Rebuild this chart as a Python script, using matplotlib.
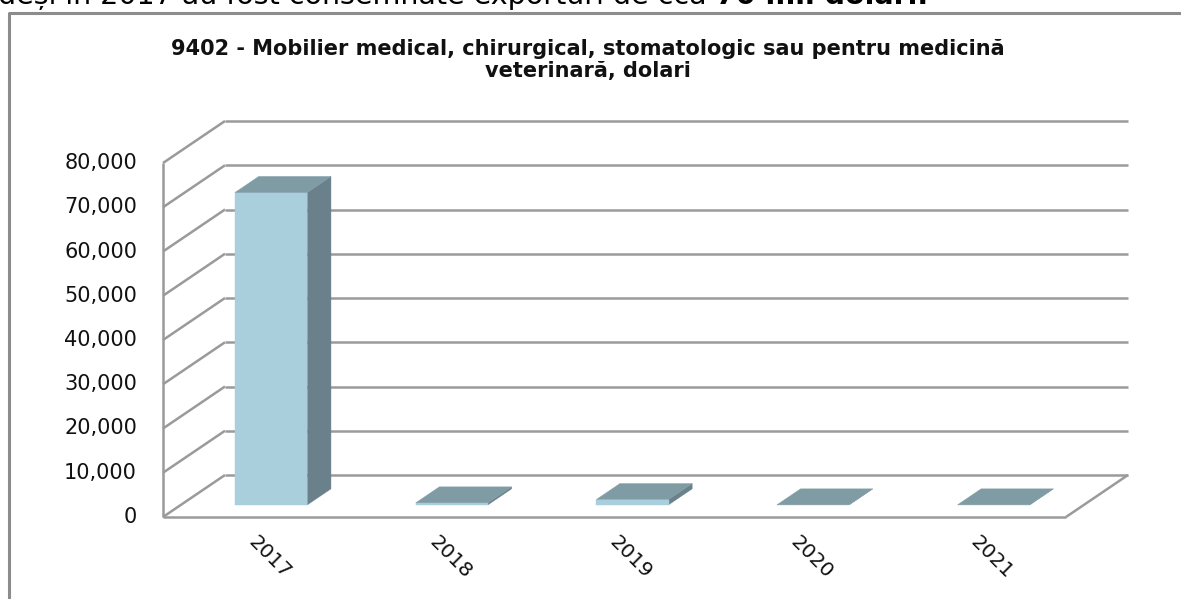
import matplotlib
matplotlib.use('Agg')
import matplotlib.pyplot as plt
from matplotlib.patches import Polygon
from matplotlib.lines import Line2D
from matplotlib import transforms

# ---- data ----
years = ['2017', '2018', '2019', '2020', '2021']
values = [70600, 450, 1200, 0, 0]
yticks = [0, 10000, 20000, 30000, 40000, 50000, 60000, 70000, 80000]
ytick_labels = ['0', '10,000', '20,000', '30,000', '40,000', '50,000',
                '60,000', '70,000', '80,000']
title = ('9402 - Mobilier medical, chirurgical, stomatologic sau pentru medicină\n'
         'veterinară, dolari')
intro_regular = 'deși în 2017 au fost consemnate exporturi de cca '
intro_bold = '70 mii dolari.'

W, H = 1181, 599
fig = plt.figure(figsize=(W / 100, H / 100), dpi=100)
fig.patch.set_facecolor('white')

# outer chart border (cut by the page)
border = fig.add_axes([0, 0, 1, 1])
border.set_xlim(0, W); border.set_ylim(H, 0); border.axis('off')
border.add_line(Line2D([9, 9, W + 5], [H + 5, 13, 13], color='#8c8c8c', lw=2.2))

# front plane of the 3D plot
ax = fig.add_axes([163 / W, 1 - 517 / H, (1066 - 163) / W, (517 - 163) / H])
ax.set_xlim(0, len(years)); ax.set_ylim(0, 80000)
ax.axis('off')

DX = 62 / ((1066 - 163) / len(years))   # depth shift in category units
DY = 42 / 354 * 80000                    # depth shift in value units


def P(x, v, d):
    return (x + d * DX, v + d * DY)


grid_kw = dict(color='#9a9a9a', lw=1.8, clip_on=False, solid_capstyle='butt')
n = len(years)
for v in yticks:
    (bx0, by0), (bx1, by1) = P(0, v, 1), P(n, v, 1)
    ax.add_line(Line2D([bx0, bx1], [by0, by1], **grid_kw))
    (fx, fy) = P(0, v, 0)
    ax.add_line(Line2D([fx, bx0], [fy, by0], **grid_kw))
# front left axis and floor
ax.add_line(Line2D([P(0, 0, 0)[0], P(0, 80000, 0)[0]],
                   [P(0, 0, 0)[1], P(0, 80000, 0)[1]], **grid_kw))
ax.add_line(Line2D([P(0, 0, 0)[0], P(n, 0, 0)[0]],
                   [P(0, 0, 0)[1], P(n, 0, 0)[1]], **grid_kw))
ax.add_line(Line2D([P(n, 0, 0)[0], P(n, 0, 1)[0]],
                   [P(n, 0, 0)[1], P(n, 0, 1)[1]], **grid_kw))

front_c, top_c, side_c = '#a9cedc', '#7f9ba4', '#6a818b'
d0, d1 = 0.29, 0.67
hw = 0.2
for i, v in enumerate(values):
    x0, x1 = i + 0.5 - hw, i + 0.5 + hw
    side = [P(x1, 0, d0), P(x1, 0, d1), P(x1, v, d1), P(x1, v, d0)]
    front = [P(x0, 0, d0), P(x1, 0, d0), P(x1, v, d0), P(x0, v, d0)]
    top = [P(x0, v, d0), P(x1, v, d0), P(x1, v, d1), P(x0, v, d1)]
    for pts, c in ((side, side_c), (front, front_c), (top, top_c)):
        ax.add_patch(Polygon(pts, closed=True, facecolor=c, edgecolor=c,
                             lw=0.3, clip_on=False, zorder=3))

# y tick labels
lab_tr = transforms.offset_copy(ax.transData, fig=fig, x=-26, y=0, units='dots')
for v, lab in zip(yticks, ytick_labels):
    ax.text(0, v, lab, transform=lab_tr, ha='right', va='center',
            fontsize=15, color='#111111')

# x tick labels
xl_tr = transforms.offset_copy(ax.transData, fig=fig, x=-2, y=-22, units='dots')
for i, yr in enumerate(years):
    ax.text(i + 0.5, 0, yr, transform=xl_tr, rotation=-45, rotation_mode='anchor',
            ha='left', va='center', fontsize=14.5, color='#111111')

# title
fig.text(588 / W, 1 - 60 / H, title, ha='center', va='center', fontsize=15,
         fontweight='bold', linespacing=1.12, color='#111111')

# page text cut off at the top
t1 = fig.text(-2 / W, 1 - 4 / H, intro_regular, ha='left', va='baseline',
              fontsize=20.5, color='black')
fig.canvas.draw()
bb = t1.get_window_extent()
fig.text(bb.x1 / W, 1 - 4 / H, intro_bold, ha='left', va='baseline', fontsize=20.5,
         fontweight='bold', color='black')

fig.savefig('out.png', dpi=100)
